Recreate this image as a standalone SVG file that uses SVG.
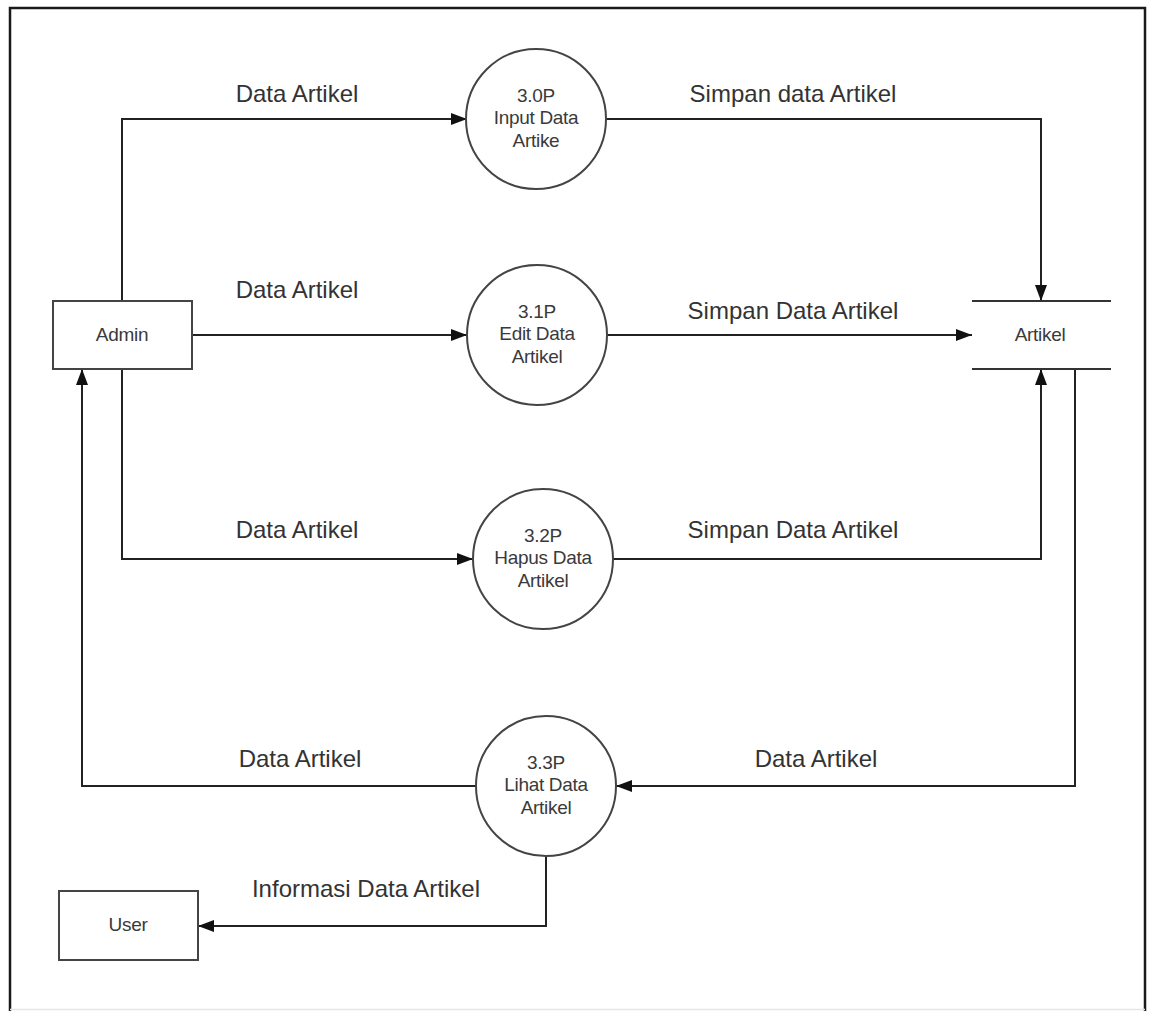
<svg xmlns="http://www.w3.org/2000/svg" width="1150" height="1011" viewBox="0 0 1150 1011">
  <style>
    .shape { fill: #ffffff; stroke: #444444; stroke-width: 2; }
    .flow { fill: none; stroke: #222222; stroke-width: 2; }
    .label { font-family: "Liberation Sans", Arial, sans-serif; font-size: 24px; fill: #333333; text-anchor: middle; }
    .node { font-family: "Liberation Sans", Arial, sans-serif; font-size: 19px; fill: #3a3a3a; text-anchor: middle; letter-spacing: -0.3px; }
  </style>
  <defs>
    <marker id="arrow" markerUnits="userSpaceOnUse" markerWidth="18" markerHeight="14" refX="16" refY="6" orient="auto">
      <path d="M0,0 L16,6 L0,12 z" fill="#111111"/>
    </marker>
  </defs>

  <rect x="0" y="0" width="1150" height="1011" fill="#ffffff"/>

  <!-- frame -->
  <path d="M10,1011 V8 H1145 V1011" fill="none" stroke="#1a1a1a" stroke-width="2.5"/>
  <line x1="10" y1="1009.5" x2="1145" y2="1009.5" stroke="#e6e6e6" stroke-width="1.5"/>

  <!-- connectors -->
  <g id="connectors">
    <path class="flow" d="M122,301 V119 H467" marker-end="url(#arrow)"/>
    <path class="flow" d="M192,335 H467" marker-end="url(#arrow)"/>
    <path class="flow" d="M122,369 V559 H473" marker-end="url(#arrow)"/>
    <path class="flow" d="M476,786 H82 V369" marker-end="url(#arrow)"/>
    <path class="flow" d="M606,119 H1041 V301" marker-end="url(#arrow)"/>
    <path class="flow" d="M607,335 H972" marker-end="url(#arrow)"/>
    <path class="flow" d="M613,559 H1041 V369" marker-end="url(#arrow)"/>
    <path class="flow" d="M1075,369 V786 H616" marker-end="url(#arrow)"/>
    <path class="flow" d="M546,856 V926 H198" marker-end="url(#arrow)"/>

    <text class="label" x="297" y="102">Data Artikel</text>
    <text class="label" x="793" y="102">Simpan data Artikel</text>
    <text class="label" x="297" y="298">Data Artikel</text>
    <text class="label" x="793" y="319">Simpan Data Artikel</text>
    <text class="label" x="297" y="538">Data Artikel</text>
    <text class="label" x="793" y="538">Simpan Data Artikel</text>
    <text class="label" x="300" y="767">Data Artikel</text>
    <text class="label" x="816" y="767">Data Artikel</text>
    <text class="label" x="366" y="897">Informasi Data Artikel</text>
  </g>

  <!-- external entities -->
  <g id="admin">
    <rect class="shape" x="53" y="301" width="139" height="68"/>
    <text class="node" x="122" y="341">Admin</text>
  </g>
  <g id="user">
    <rect class="shape" x="59" y="891" width="139" height="69"/>
    <text class="node" x="128" y="931">User</text>
  </g>

  <!-- processes -->
  <g id="p30">
    <circle class="shape" cx="536" cy="119" r="70"/>
    <text class="node" x="536" y="102">3.0P</text>
    <text class="node" x="536" y="124">Input Data</text>
    <text class="node" x="536" y="147">Artike</text>
  </g>
  <g id="p31">
    <circle class="shape" cx="537" cy="335" r="70"/>
    <text class="node" x="537" y="318">3.1P</text>
    <text class="node" x="537" y="340">Edit Data</text>
    <text class="node" x="537" y="363">Artikel</text>
  </g>
  <g id="p32">
    <circle class="shape" cx="543" cy="559" r="70"/>
    <text class="node" x="543" y="542">3.2P</text>
    <text class="node" x="543" y="564">Hapus Data</text>
    <text class="node" x="543" y="587">Artikel</text>
  </g>
  <g id="p33">
    <circle class="shape" cx="546" cy="786" r="70"/>
    <text class="node" x="546" y="769">3.3P</text>
    <text class="node" x="546" y="791">Lihat Data</text>
    <text class="node" x="546" y="814">Artikel</text>
  </g>

  <!-- data store -->
  <g id="artikel">
    <line x1="972" y1="301" x2="1111" y2="301" stroke="#333333" stroke-width="2"/>
    <line x1="972" y1="369" x2="1111" y2="369" stroke="#333333" stroke-width="2"/>
    <text class="node" x="1040" y="341">Artikel</text>
  </g>
</svg>
